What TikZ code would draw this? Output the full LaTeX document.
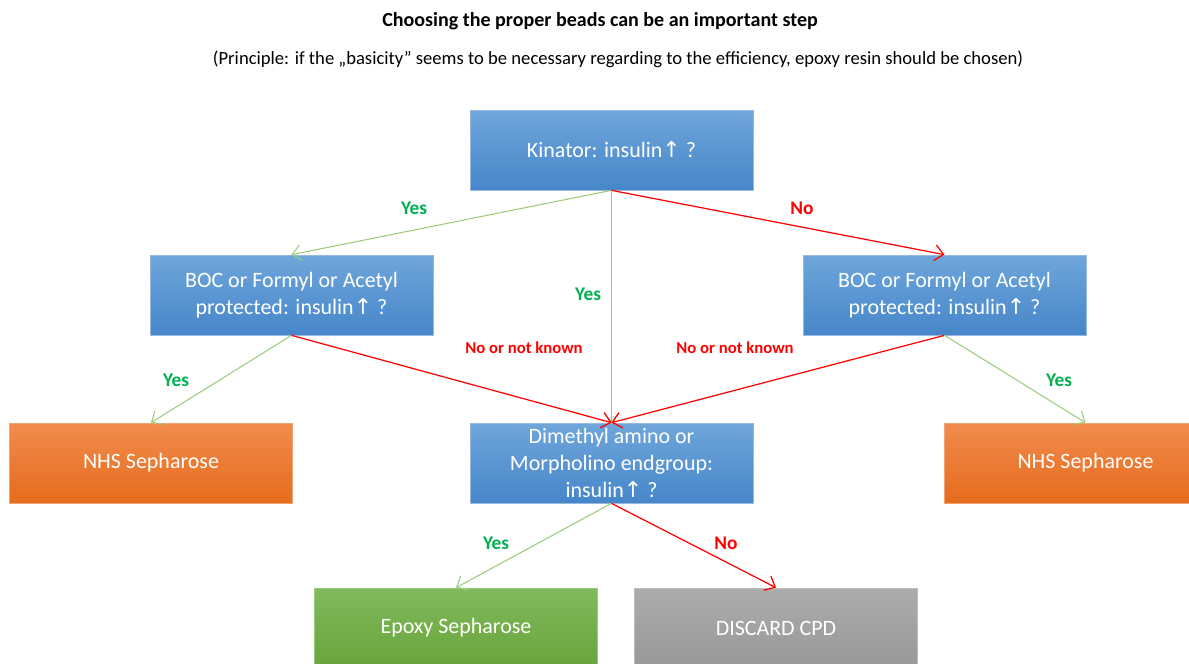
\documentclass[tikz,border=0pt]{standalone}
\usepackage{fontspec}
\setmainfont{Carlito}
\newfontfamily\arrowfont{DejaVu Sans}
\usetikzlibrary{arrows.meta,calc,positioning}
\definecolor{bluetop}{RGB}{111,166,219}
\definecolor{bluebot}{RGB}{70,134,201}
\definecolor{blueline}{RGB}{150,185,225}
\definecolor{orangetop}{RGB}{241,139,77}
\definecolor{orangebot}{RGB}{229,108,28}
\definecolor{greentop}{RGB}{128,186,92}
\definecolor{greenbot}{RGB}{104,164,58}
\definecolor{graytop}{RGB}{172,172,172}
\definecolor{graybot}{RGB}{152,152,152}
\definecolor{yesgreen}{RGB}{0,176,80}
\definecolor{yesline}{RGB}{155,203,126}
\definecolor{nored}{RGB}{255,0,0}
\newcommand{\insup}{{\arrowfont\char"2191}}

\begin{document}
\begin{tikzpicture}[x=0.02cm,y=-0.02cm,
  box/.style={minimum width=5.66cm,minimum height=1.6cm,inner sep=2pt,
    align=center,text=white,font=\fontsize{12.5}{15.2}\selectfont},
  question/.style={box,draw=blueline,top color=bluetop,bottom color=bluebot},
  nhs/.style={box,draw=orangetop!80!white,top color=orangetop,bottom color=orangebot},
  epoxy/.style={box,draw=greentop!80!white,top color=greentop,bottom color=greenbot},
  discard/.style={box,draw=graytop!80!white,top color=graytop,bottom color=graybot},
  yes/.style={draw=yesline,line width=0.6pt,-{Straight Barb[length=5pt,width=9pt]}},
  no/.style={draw=nored,line width=0.7pt,-{Straight Barb[length=5pt,width=9pt]}},
  yeslabel/.style={text=yesgreen,font=\fontsize{11}{13}\selectfont\bfseries},
  nolabel/.style={text=nored,font=\fontsize{11}{13}\selectfont\bfseries}]
  \useasboundingbox (0,0) rectangle (1189,663);

  % title
  \node (title) at (600,21) {\fontsize{11.4}{13}\selectfont\bfseries Choosing the proper beads can be an important step};
  \node (principle) at (618,59) {\fontsize{10.6}{13}\selectfont (Principle: if the „basicity” seems to be necessary regarding to the efficiency, epoxy resin should be chosen)};

  % boxes
  \node[question] (kin) at (611.5,150) {Kinator: insulin\insup\ ?};
  \node[question] (bocl) at (291.5,295) {BOC or Formyl or Acetyl\\protected: insulin\insup\ ?};
  \node[question] (bocr) at (944.5,295) {BOC or Formyl or Acetyl\\protected: insulin\insup\ ?};
  \node[question] (dime) at (611.5,463) {Dimethyl amino or\\Morpholino endgroup:\\insulin\insup\ ?};
  \node[nhs] (nhsl) at (151,463) {NHS Sepharose};
  \node[nhs] (nhsr) at (1085.5,463) {NHS Sepharose};
  \node[epoxy] (epox) at (456,628) {Epoxy Sepharose};
  \node[discard] (disc) at (776,628) {DISCARD CPD};

  % connectors
  \draw[yes] (kin.south) -- (bocl.north);
  \draw[yes] (kin.south) -- (dime.north);
  \draw[no] (kin.south) -- (bocr.north);
  \draw[yes] (bocl.south) -- (nhsl.north);
  \draw[no] (bocl.south) -- (dime.north);
  \draw[no] (bocr.south) -- (dime.north);
  \draw[yes] (bocr.south) -- (nhsr.north);
  \draw[yes] (dime.south) -- (epox.north);
  \draw[no] (dime.south) -- (disc.north);

  % labels
  \node[yeslabel] (l1) at (414,208) {Yes};
  \node[nolabel] (l2) at (802,208) {No};
  \node[yeslabel] (l3) at (588,294) {Yes};
  \node[yeslabel] (l4) at (176,380) {Yes};
  \node[nolabel,font=\fontsize{9.5}{11}\selectfont\bfseries] (l5) at (524,348) {No or not known};
  \node[nolabel,font=\fontsize{9.5}{11}\selectfont\bfseries] (l6) at (735,348) {No or not known};
  \node[yeslabel] (l7) at (1059,380) {Yes};
  \node[yeslabel] (l8) at (496,543) {Yes};
  \node[nolabel] (l9) at (726,543) {No};
\end{tikzpicture}
\end{document}
